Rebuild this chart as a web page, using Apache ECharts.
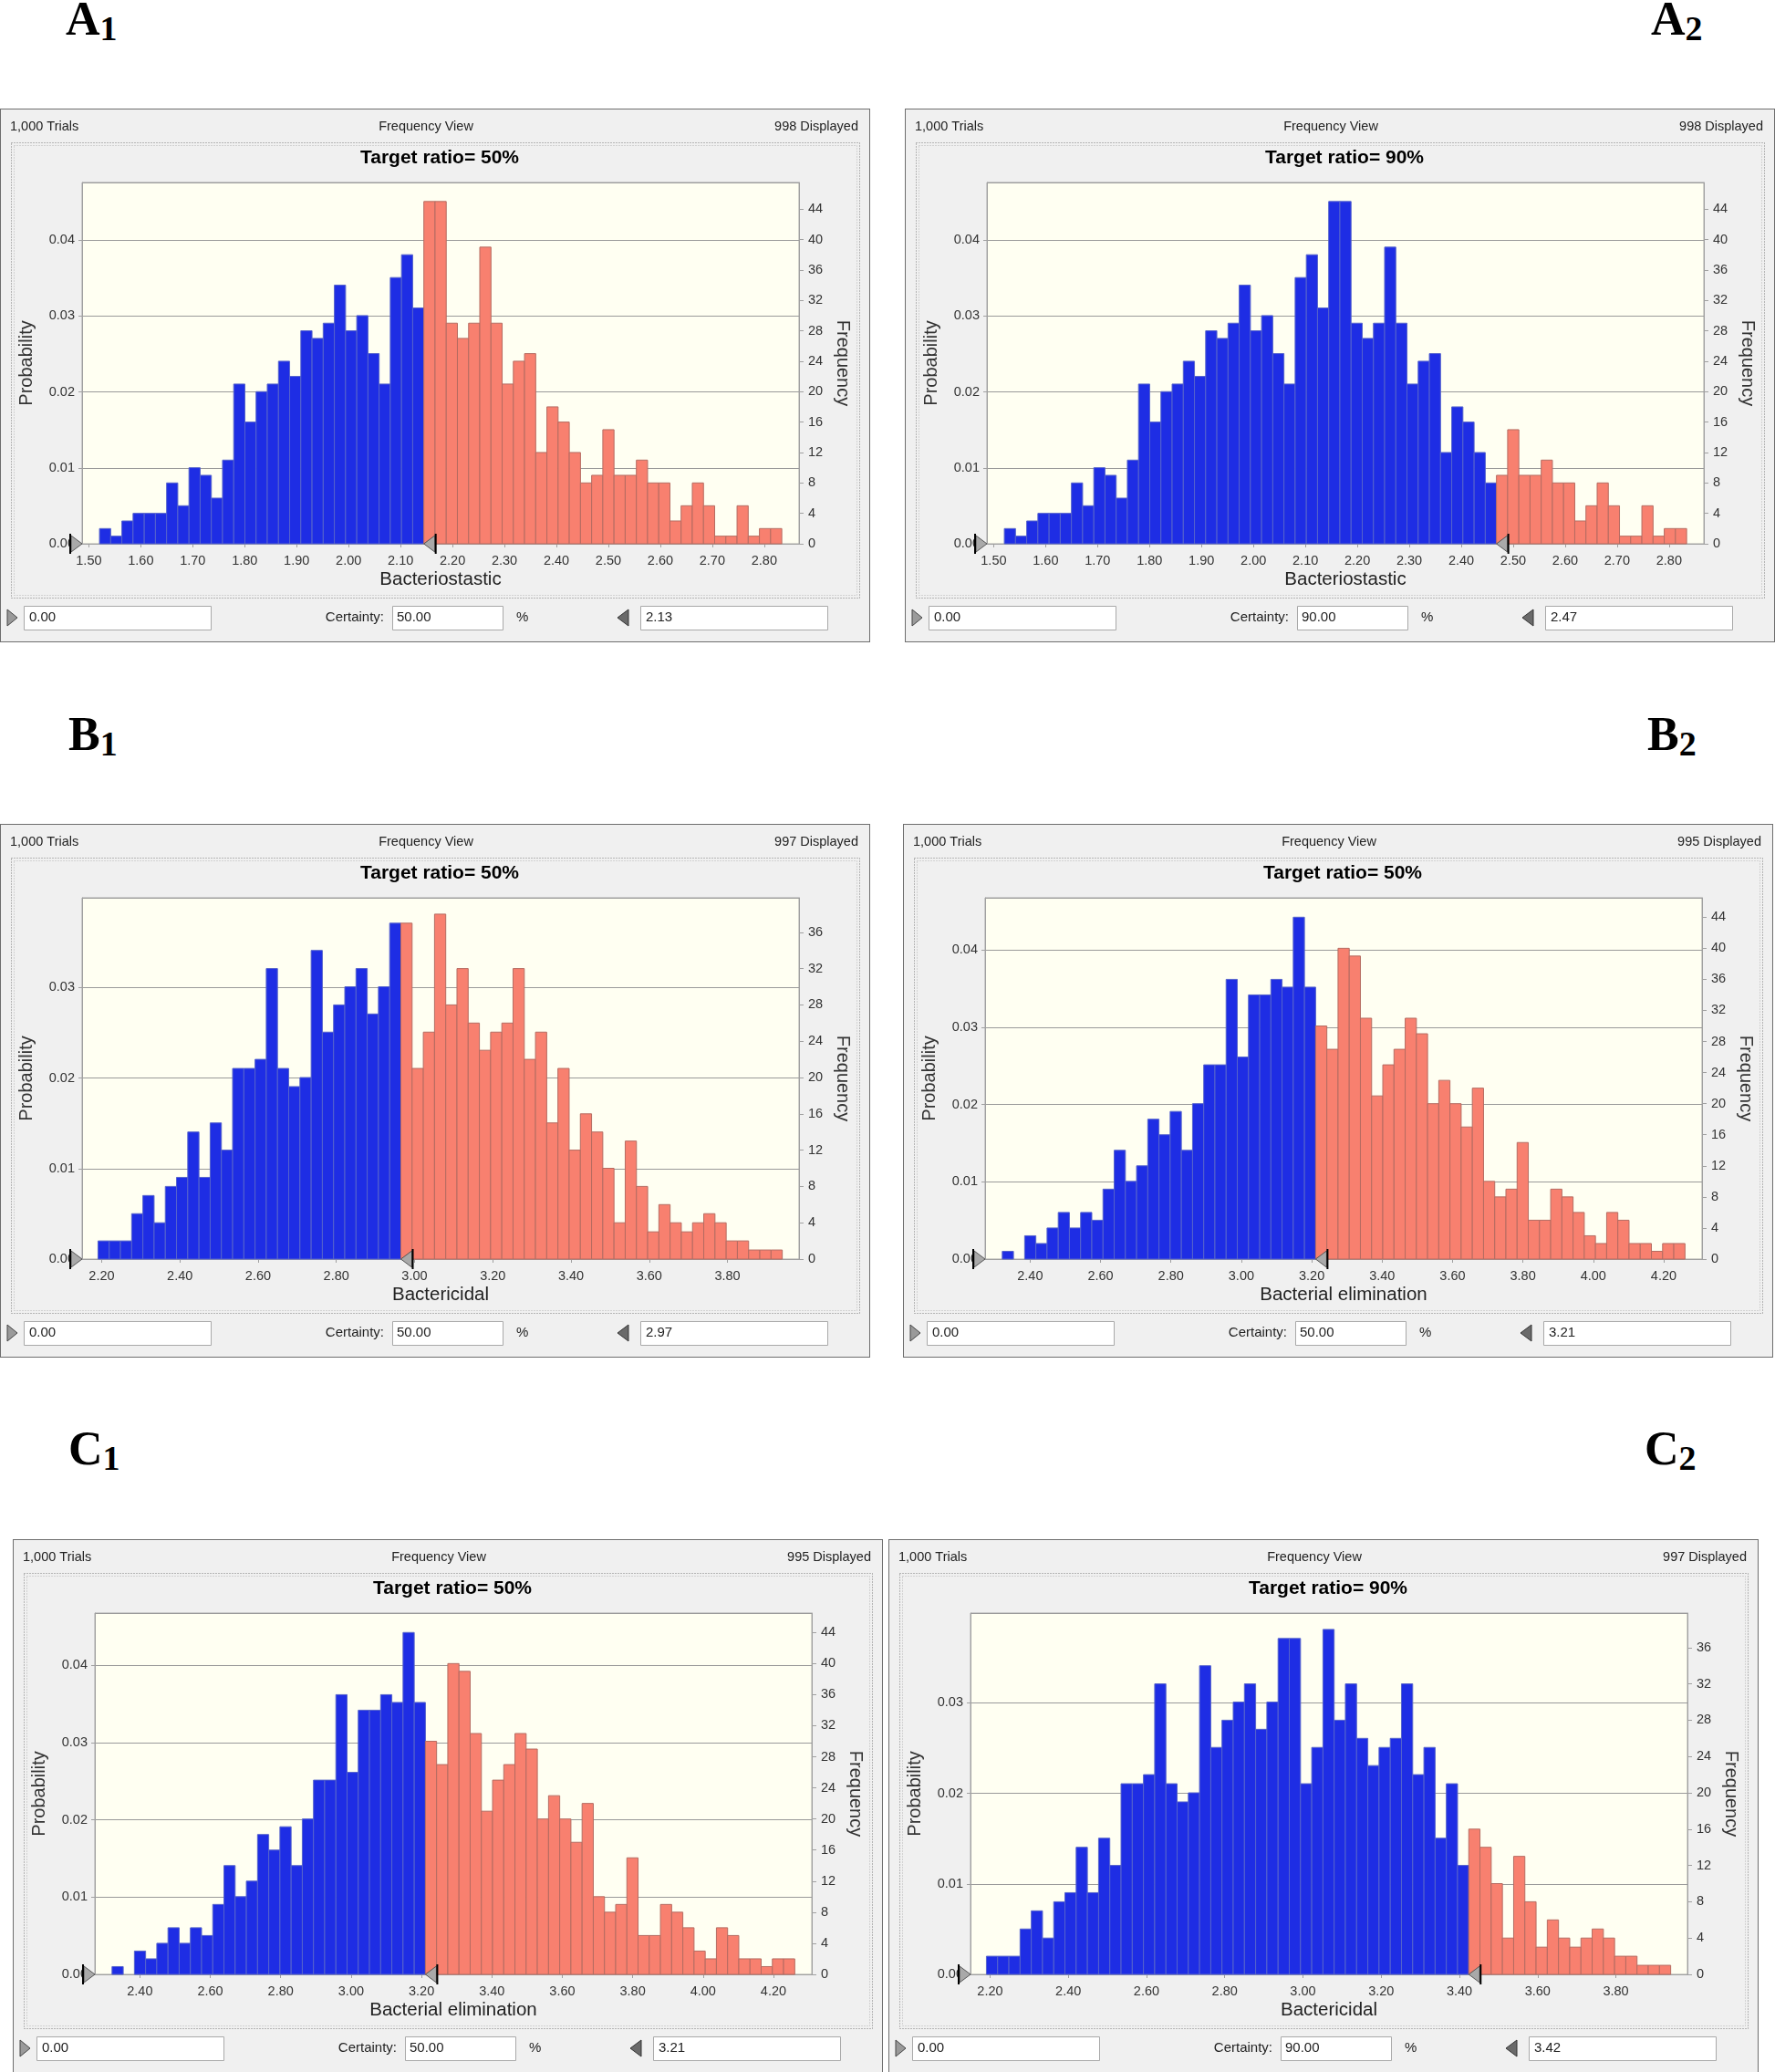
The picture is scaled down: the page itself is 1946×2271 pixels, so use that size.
<!DOCTYPE html>
<html><head><meta charset="utf-8">
<script src="https://cdn.jsdelivr.net/npm/echarts@6/dist/echarts.min.js"></script>
<style>
html,body{margin:0;padding:0;background:#fff;width:1946px;height:2271px;overflow:hidden;}
.panel{position:absolute;width:954px;height:585px;background:#F0F0F0;border:1px solid #6e6e6e;box-sizing:border-box;}
.panel .chart{position:absolute;left:-1px;top:-1px;width:954px;height:585px;}
.lbl{position:absolute;font-family:'Liberation Serif','Times New Roman',serif;font-weight:bold;font-size:52px;line-height:1;color:#000;white-space:nowrap;}
.lbl .s{font-size:38px;position:relative;top:6px;}
</style></head><body>
<div class="lbl" style="left:72px;top:-5px">A<span class="s">1</span></div>
<div class="lbl" style="left:1810px;top:-5px">A<span class="s">2</span></div>
<div class="lbl" style="left:75px;top:779px">B<span class="s">1</span></div>
<div class="lbl" style="left:1806px;top:779px">B<span class="s">2</span></div>
<div class="lbl" style="left:75px;top:1562px">C<span class="s">1</span></div>
<div class="lbl" style="left:1803px;top:1562px">C<span class="s">2</span></div>
<div id="wrap"></div>
<script>
// ---------- DATA ----------
// Frequency counts per bin (61 bins each)
const bacteriostasticCounts = [2,1,3,4,4,4,8,5,10,9,6,11,21,16,20,21,24,22,28,27,29,34,28,30,25,21,35,38,31,45,45,29,27,29,39,29,21,24,25,12,18,16,12,8,9,15,9,9,11,8,8,3,5,8,5,1,1,5,1,2,2];
const bactericidalCounts = [2,2,2,5,7,4,8,9,14,9,15,12,21,21,22,32,21,19,20,34,25,28,30,32,27,30,37,37,21,25,38,28,32,26,23,25,26,32,22,25,15,21,12,16,14,10,4,13,8,3,6,4,3,4,5,4,2,2,1,1,1];
const eliminationCounts = [1,0,3,2,4,6,4,6,5,9,14,10,12,18,16,19,14,20,25,25,36,26,34,34,36,35,44,35,30,27,40,39,31,21,25,27,31,29,20,23,20,17,22,10,8,9,15,5,5,9,8,6,3,2,6,5,2,2,1,2,2];

// bin start of first bin and bin width
const bacteriostasticFirstBin = 1.5205, bacteriostasticBinWidth = 0.02153;
const bactericidalFirstBin = 2.1907, bactericidalBinWidth = 0.02868;
const eliminationFirstBin = 2.3208, eliminationBinWidth = 0.0318;

// axis ranges
const bacteriostasticRange = [1.487, 2.867];
const bactericidalRange = [2.150, 3.983];
const eliminationRange = [2.272, 4.309];
const bacteriostasticYMax = 47.5, bactericidalYMax = 39.8, eliminationYMax = 46.5;

// tick labels
const bacteriostasticTicks = ['1.50','1.60','1.70','1.80','1.90','2.00','2.10','2.20','2.30','2.40','2.50','2.60','2.70','2.80'];
const bactericidalTicks = ['2.20','2.40','2.60','2.80','3.00','3.20','3.40','3.60','3.80'];
const eliminationTicks = ['2.40','2.60','2.80','3.00','3.20','3.40','3.60','3.80','4.00','4.20'];

// panels
const panelIds = ['A1','A2','B1','B2','C1','C2'];
const panelData = ['bacteriostastic','bacteriostastic','bactericidal','elimination','elimination','bactericidal'];
const panelAxisNames = ['Bacteriostastic','Bacteriostastic','Bactericidal','Bacterial elimination','Bacterial elimination','Bactericidal'];
const panelTargets = ['Target ratio= 50%','Target ratio= 90%','Target ratio= 50%','Target ratio= 50%','Target ratio= 50%','Target ratio= 90%'];
const panelCertainty = ['50.00','90.00','50.00','50.00','50.00','90.00'];
const panelValues = ['2.13','2.47','2.97','3.21','3.21','3.42'];
const panelDisplayed = [998,998,997,995,995,997];
const panelBlueBins = [29,44,27,28,28,43];

// ---------- LAYOUT ----------
const panelPos = [[0,119],[992,119],[0,903],[990,903],[14,1687],[974,1687]];

const datasets = {
  bacteriostastic:{counts:bacteriostasticCounts, first:bacteriostasticFirstBin, width:bacteriostasticBinWidth, range:bacteriostasticRange, ymax:bacteriostasticYMax, ticks:bacteriostasticTicks},
  bactericidal:{counts:bactericidalCounts, first:bactericidalFirstBin, width:bactericidalBinWidth, range:bactericidalRange, ymax:bactericidalYMax, ticks:bactericidalTicks},
  elimination:{counts:eliminationCounts, first:eliminationFirstBin, width:eliminationBinWidth, range:eliminationRange, ymax:eliminationYMax, ticks:eliminationTicks}
};

const FONT = "'Liberation Sans', Arial, sans-serif";
const GRID = {left:90, top:81, width:786, height:396};

function txt(x, y, text, opt) {
  opt = opt || {};
  return {type:'text', x:x, y:y, rotation:opt.rot||0, z:100,
    style:{text:text, align:opt.align||'left', verticalAlign:'middle',
      textAlign:opt.align||'left', textVerticalAlign:'middle',
      fontSize:opt.size||13, fontWeight:opt.bold?'bold':'normal', fontFamily:FONT, fill:opt.color||'#222'}};
}

function buildOption(i) {
  const ds = datasets[panelData[i]];
  const blue = panelBlueBins[i];
  const displayed = panelDisplayed[i];
  const bars = ds.counts.map((c, k) => [ds.first + k*ds.width, ds.first + (k+1)*ds.width, c, k < blue ? 0 : 1]);
  const split = ds.first + blue*ds.width;
  const tickVals = ds.ticks.map(Number);
  const cy = 558;
  const graphic = [
    txt(11, 20, '1,000 Trials', {size:14.5}),
    txt(467, 20, 'Frequency View', {size:14.5, align:'center'}),
    txt(941, 20, displayed + ' Displayed', {size:14.5, align:'right'}),
    {type:'rect', shape:{x:12.5, y:37.5, width:930, height:499}, style:{fill:null, stroke:'#7a7a7a', lineWidth:1, lineDash:[1,2]}, z:1},
    {type:'rect', shape:{x:15.5, y:40.5, width:924, height:493}, style:{fill:null, stroke:'#b5b5b5', lineWidth:1, lineDash:[1,2]}, z:1},
    txt(482, 54, panelTargets[i], {size:21, bold:true, align:'center', color:'#000'}),
    txt(29, 279, 'Probability', {size:20, align:'center', rot:Math.PI/2, color:'#333'}),
    txt(924, 279, 'Frequency', {size:20, align:'center', rot:-Math.PI/2, color:'#333'}),
    txt(GRID.left + GRID.width/2, 516, panelAxisNames[i], {size:20.5, align:'center', color:'#222'}),
    // certainty row
    {type:'polygon', shape:{points:[[8,cy-9],[19,cy],[8,cy+9]]}, style:{fill:'#9a9a9a', stroke:'#444', lineWidth:1}, z:5},
    {type:'rect', shape:{x:26.5, y:545.5, width:205, height:26}, style:{fill:'#fff', stroke:'#a9a9a9', lineWidth:1}, z:2},
    txt(32, cy, '0.00', {size:15}),
    txt(421, cy, 'Certainty:', {size:15, align:'right'}),
    {type:'rect', shape:{x:430.5, y:545.5, width:121, height:26}, style:{fill:'#fff', stroke:'#a9a9a9', lineWidth:1}, z:2},
    txt(435, cy, panelCertainty[i], {size:15}),
    txt(566, cy, '%', {size:15}),
    {type:'polygon', shape:{points:[[689,cy-9],[677,cy],[689,cy+9]]}, style:{fill:'#6a6a6a', stroke:'#333', lineWidth:1}, z:5},
    {type:'rect', shape:{x:702.5, y:545.5, width:205, height:26}, style:{fill:'#fff', stroke:'#a9a9a9', lineWidth:1}, z:2},
    txt(708, cy, panelValues[i], {size:15})
  ];
  return {
    animation:false,
    graphic:graphic,
    grid:Object.assign({show:true, backgroundColor:'#FFFFF2', borderColor:'#a8a8a8', borderWidth:1}, GRID),
    xAxis:{type:'value', min:ds.range[0], max:ds.range[1],
      axisLine:{show:true, lineStyle:{color:'#a0a0a0'}},
      axisTick:{show:true, length:4, lineStyle:{color:'#a0a0a0'}, customValues:tickVals},
      axisLabel:{customValues:tickVals, formatter:v=>v.toFixed(2), color:'#333', fontSize:14.5, fontFamily:FONT, margin:11},
      splitLine:{show:false}},
    yAxis:[
      {type:'value', position:'left', min:0, max:ds.ymax/displayed, interval:0.01,
        axisLine:{show:true, lineStyle:{color:'#a0a0a0'}},
        axisTick:{show:true, length:4, lineStyle:{color:'#a0a0a0'}},
        axisLabel:{formatter:v=>v.toFixed(2), showMaxLabel:false, color:'#333', fontSize:14.5, fontFamily:FONT, margin:8},
        splitLine:{show:true, lineStyle:{color:'#9a9a9a', width:1}}},
      {type:'value', position:'right', min:0, max:ds.ymax, interval:4,
        axisLine:{show:true, lineStyle:{color:'#a0a0a0'}},
        axisTick:{show:true, length:5, lineStyle:{color:'#a0a0a0'}},
        axisLabel:{showMaxLabel:false, color:'#333', fontSize:14.5, fontFamily:FONT, margin:10},
        splitLine:{show:false}}
    ],
    series:[
      {type:'custom', yAxisIndex:1, data:bars, encode:{x:[0,1], y:2},
        renderItem:function(params, api){
          const c = api.value(2);
          if (!c) return null;
          const isBlue = api.value(3) === 0;
          const p0 = api.coord([api.value(0), 0]);
          const p1 = api.coord([api.value(1), c]);
          return {type:'rect', shape:{x:p0[0], y:p1[1], width:p1[0]-p0[0], height:p0[1]-p1[1]},
            style:{fill:isBlue?'#1E2DE4':'#F8806F', stroke:isBlue?'#5563CC':'#B56B61', lineWidth:1}};
        }},
      {type:'custom', yAxisIndex:1, clip:false, z:10, data:[[ds.range[0],0,0],[split,0,1]],
        renderItem:function(params, api){
          const p = api.coord([api.value(0), 0]);
          const kind = api.value(2);
          const d = kind === 0 ? -1 : 1;
          const bx = p[0] + d*12, lx = p[0] + d*13;
          return {type:'group', children:[
            {type:'polygon', shape:{points:[[bx,p[1]-9],[p[0],p[1]],[bx,p[1]+9]]}, style:{fill:'#a9a9a9', stroke:'#555', lineWidth:1}},
            {type:'line', shape:{x1:lx, y1:p[1]-11, x2:lx, y2:p[1]+11}, style:{stroke:'#000', lineWidth:2}}
          ]};
        }}
    ]
  };
}

const wrap = document.getElementById('wrap');
panelIds.forEach((id, i) => {
  const p = document.createElement('div');
  p.className = 'panel';
  p.style.left = panelPos[i][0] + 'px';
  p.style.top = panelPos[i][1] + 'px';
  const c = document.createElement('div');
  c.className = 'chart';
  p.appendChild(c);
  wrap.appendChild(p);
  const chart = echarts.init(c, null, {renderer:'canvas'});
  chart.setOption(buildOption(i));
});
</script>
</body></html>
